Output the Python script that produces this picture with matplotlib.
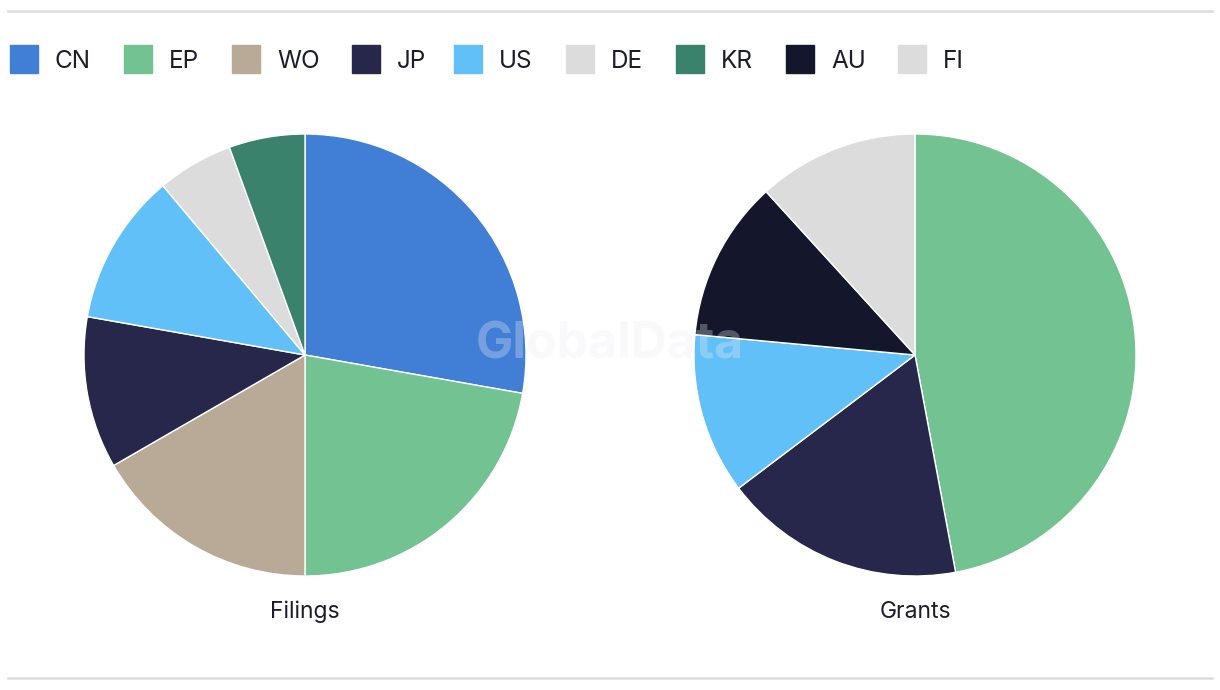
import matplotlib.pyplot as plt
from matplotlib.patches import Rectangle
from matplotlib.lines import Line2D

plt.rcParams['font.family'] = ['Inter', 'DejaVu Sans']

# legend entries
legend_labels = ["CN", "EP", "WO", "JP", "US", "DE", "KR", "AU", "FI"]
legend_colors = ["#417ed6", "#73c291", "#b8aa97", "#27274b", "#62c0f9",
                 "#dcdcdc", "#3a826b", "#14162c", "#dcdcdc"]
color_of = dict(zip(legend_labels, legend_colors))

# filings by jurisdiction
filing_labels = ["CN", "EP", "WO", "JP", "US", "DE", "KR"]
filing_counts = [5, 4, 3, 2, 2, 1, 1]

# grants by jurisdiction
grant_labels = ["EP", "JP", "US", "AU", "FI"]
grant_counts = [8, 3, 2, 2, 2]

W, H = 1220, 690
fig = plt.figure(figsize=(W / 100, H / 100), dpi=100)

# thin grey rules top and bottom
for y in (11, 678):
    fig.add_artist(Line2D([8 / W, 1212 / W], [1 - y / H, 1 - y / H],
                          color="#dcdcdc", lw=1.8))

# legend row
lx = [10, 124, 232, 352, 454, 566, 676, 786, 898]
for x, lab, col in zip(lx, legend_labels, legend_colors):
    fig.add_artist(Rectangle((x / W, 1 - 73 / H), 28 / W, 28 / H,
                             color=col, transform=fig.transFigure))
    fig.text((x + 45) / W, 1 - 68 / H, lab, fontsize=17.5, color="#1c1c2e",
             va="baseline", ha="left")


def draw_pie(cx, cy, r, labels, counts, title):
    ax = fig.add_axes([(cx - r) / W, 1 - (cy + r) / H, 2 * r / W, 2 * r / H])
    ax.pie(counts, colors=[color_of[l] for l in labels], startangle=90,
           counterclock=False,
           wedgeprops=dict(edgecolor="white", linewidth=1))
    ax.set_aspect("equal")
    ax.set_xlim(-1, 1)
    ax.set_ylim(-1, 1)
    fig.text(cx / W, 1 - 618 / H, title, fontsize=16.5, color="#1c1c2e",
             ha="center", va="baseline")


draw_pie(305, 355, 221, filing_labels, filing_counts, "Filings")
draw_pie(915, 355, 221, grant_labels, grant_counts, "Grants")

# watermark
fig.text(610 / W, 1 - 345 / H, "GlobalData", fontsize=36, fontweight="bold",
         color="#eeeef2", alpha=0.3, ha="center", va="center", zorder=10)

fig.savefig("out.png", dpi=100)
